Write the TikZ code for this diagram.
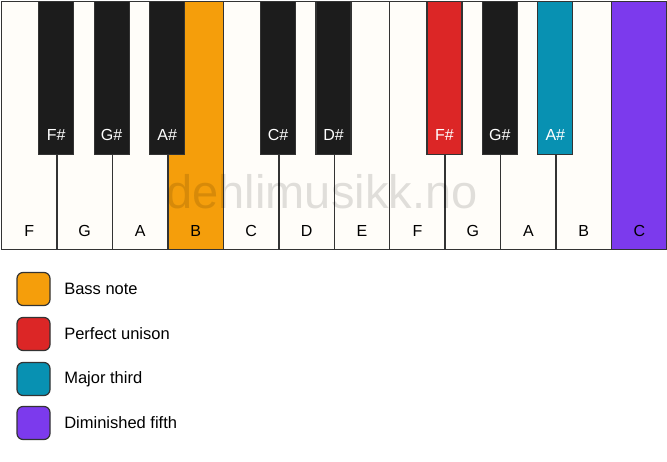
\documentclass[tikz,border=0pt]{standalone}
\usepackage{fontspec}
\setmainfont{Liberation Sans}
\usetikzlibrary{positioning}

\definecolor{keywhite}{HTML}{FFFDF9}
\definecolor{keyblack}{HTML}{1C1C1C}
\definecolor{keyline}{HTML}{333333}
\definecolor{bassnote}{HTML}{F59E0B}
\definecolor{unison}{HTML}{DC2626}
\definecolor{majthird}{HTML}{0891B2}
\definecolor{dimfifth}{HTML}{7C3AED}

\tikzset{
  whitekey/.style={draw=keyline, line width=1.5pt, anchor=north west, inner sep=0pt,
    minimum width=55.46pt, minimum height=248pt},
  blackkey/.style={draw=keyline, line width=1.2pt, anchor=north, inner sep=0pt,
    minimum width=35pt, minimum height=153pt},
  keylabel/.style={font=\fontsize{16}{16}\selectfont, inner sep=0pt},
  legendbox/.style={draw=keyline, line width=1.2pt, rounded corners=6pt, minimum size=33pt},
  legendtext/.style={font=\fontsize{16.5}{16.5}\selectfont, inner sep=0pt, anchor=west}
}

\begin{document}
\begin{tikzpicture}[x=1pt, y=-1pt]
    \useasboundingbox (0,0) rectangle (667,461);
    \fill[white] (0,0) rectangle (667,461);

    % white keys
    \foreach \n/\c [count=\i] in {F/keywhite, G/keywhite, A/keywhite, B/bassnote,
        C/keywhite, D/keywhite, E/keywhite, F/keywhite, G/keywhite, A/keywhite,
        B/keywhite, C/dimfifth} {
      \node[whitekey, fill=\c] (w\i) at ({0.75+55.46*(\i-1)},0.75) {};
      \node[keylabel] (lw\i) at ([yshift=19pt]w\i.south) {\n};
    }

    \node[font=\fontsize{47}{47}\selectfont, text=black, text opacity=0.12, inner sep=0pt]
      (mark) at (322,192) {dehlimusikk.no};

    % black keys
    \foreach \b/\n/\c in {2/F\#/keyblack, 3/G\#/keyblack, 4/A\#/keyblack,
        6/C\#/keyblack, 7/D\#/keyblack, 9/F\#/unison, 10/G\#/keyblack,
        11/A\#/majthird} {
      \node[blackkey, fill=\c] (b\b) at (w\b.north west) {};
      \node[keylabel, text=white] (lb\b) at ([yshift=20pt]b\b.south) {\n};
    }

    % legend
    \node[legendbox, fill=bassnote] (gbass) at (33.5,289) {};
    \node[legendtext, right=13.5pt of gbass] (tbass) {Bass note};

    \node[legendbox, fill=unison] (gunison) at (33.5,334) {};
    \node[legendtext, right=13.5pt of gunison] (tunison) {Perfect unison};

    \node[legendbox, fill=majthird] (gthird) at (33.5,379) {};
    \node[legendtext, right=13.5pt of gthird] (tthird) {Major third};

    \node[legendbox, fill=dimfifth] (gfifth) at (33.5,423) {};
    \node[legendtext, right=13.5pt of gfifth] (tfifth) {Diminished fifth};
\end{tikzpicture}
\end{document}
